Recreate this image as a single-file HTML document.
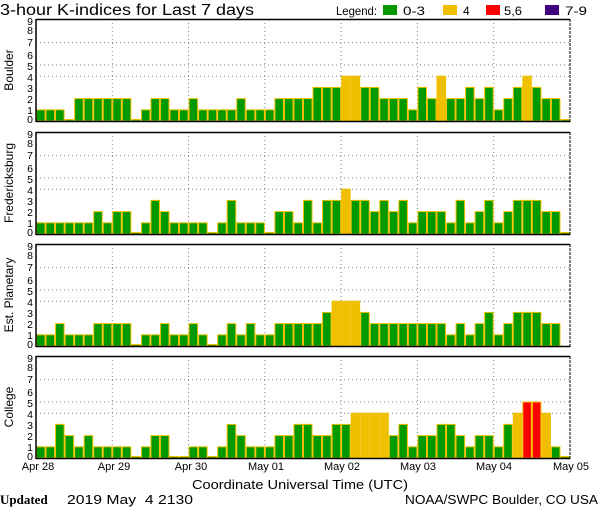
<!DOCTYPE html>
<html><head><meta charset="utf-8"><style>
html,body{margin:0;padding:0;background:#fff;}
svg{display:block;font-family:"Liberation Sans",sans-serif;}
</style></head><body>
<svg id="s" width="600" height="510" viewBox="0 0 600 510" xmlns="http://www.w3.org/2000/svg">
<rect width="600" height="510" fill="#fff"/>
<text x="0" y="15" font-size="15.5" fill="#000" textLength="254" lengthAdjust="spacingAndGlyphs">3-hour K-indices for Last 7 days</text>
<text x="336" y="15" font-size="12" fill="#000" textLength="41" lengthAdjust="spacingAndGlyphs">Legend:</text>
<rect x="383" y="5" width="14" height="10" fill="#009900"/><text x="403" y="15" font-size="12" textLength="22" lengthAdjust="spacingAndGlyphs">0-3</text>
<rect x="443" y="5" width="14" height="10" fill="#f0c000"/><text x="463" y="15" font-size="12">4</text>
<rect x="486" y="5" width="14" height="10" fill="#ff0000"/><text x="504" y="15" font-size="12" textLength="18" lengthAdjust="spacingAndGlyphs">5,6</text>
<rect x="545" y="5" width="14" height="10" fill="#400080"/><text x="565" y="15" font-size="12" textLength="22" lengthAdjust="spacingAndGlyphs">7-9</text>
<g id="panels"></g>
<g font-size="11" text-anchor="middle">
<text x="38" y="470">Apr 28</text><text x="114" y="470">Apr 29</text><text x="191" y="470">Apr 30</text>
<text x="266" y="470">May 01</text><text x="342" y="470">May 02</text><text x="418" y="470">May 03</text>
<text x="494" y="470">May 04</text><text x="571" y="470">May 05</text>
</g>
<text x="192" y="489" font-size="13" textLength="216" lengthAdjust="spacingAndGlyphs">Coordinate Universal Time (UTC)</text>
<text x="0" y="504" font-size="13" font-family="Liberation Serif,serif" font-weight="bold">Updated</text>
<text x="67" y="504" font-size="13" textLength="126" lengthAdjust="spacingAndGlyphs" xml:space="preserve">2019 May  4 2130</text>
<text x="405" y="504" font-size="13" textLength="193" lengthAdjust="spacingAndGlyphs">NOAA/SWPC Boulder, CO USA</text>
<g font-size="12" id="names">
<text transform="translate(13,70) rotate(-90)" text-anchor="middle">Boulder</text>
<text transform="translate(13,183) rotate(-90)" text-anchor="middle">Fredericksburg</text>
<text transform="translate(13,295) rotate(-90)" text-anchor="middle">Est. Planetary</text>
<text transform="translate(13,407) rotate(-90)" text-anchor="middle">College</text>
</g>
</svg>
<script>
var data=[
[1,1,1,0,2,2,2,2, 2,2,0,1,2,2,1,1, 2,1,1,1,1,2,1,1, 1,2,2,2,2,3,3,3, 4,4,3,3,2,2,2,1, 3,2,4,2,2,3,2,3, 1,2,3,4,3,2,2,0],
[1,1,1,1,1,1,2,1, 2,2,0,1,3,2,1,1, 1,1,0,1,3,1,1,1, 0,2,2,1,3,1,3,3, 4,3,3,2,3,2,3,1, 2,2,2,1,3,1,2,3, 1,2,3,3,3,2,2,0],
[1,1,2,1,1,1,2,2, 2,2,0,1,1,2,1,1, 2,1,0,1,2,1,2,1, 1,2,2,2,2,2,3,4, 4,4,3,2,2,2,2,2, 2,2,2,1,2,1,2,3, 1,2,3,3,3,2,2,null],
[1,1,3,2,1,2,1,1, 1,1,0,1,2,2,0,0, 1,1,0,1,3,2,1,1, 1,2,2,3,3,2,2,3, 3,4,4,4,4,2,3,1, 2,2,3,3,2,1,2,2, 1,3,4,5,5,4,1,0]];
var tops=[19,132,244,356];
var L=36,R=570,W=(R-L)/56,U=11.2;
var ns="http://www.w3.org/2000/svg",g=document.getElementById("panels");
function el(n,a,t){var e=document.createElementNS(ns,n);for(var k in a)e.setAttribute(k,a[k]);if(t!=null)e.textContent=t;g.appendChild(e);return e;}
var off=[100,91,80,69,58,47,36,23,11,2];
for(var p=0;p<4;p++){
 var T=tops[p],B=T+102;
 [4,5,7].forEach(function(v){var y=B-v*U;el("line",{x1:L,x2:R,y1:y,y2:y,stroke:"#808080","stroke-dasharray":"1,3","stroke-width":1});});
 for(var d=1;d<7;d++){var x=L+d*8*W;el("line",{x1:x,x2:x,y1:T,y2:B,stroke:"#808080","stroke-dasharray":"1,3","stroke-width":1});}
 for(var v=0;v<10;v++)el("text",{x:33,y:T+off[v]+4,"font-size":10.5,"text-anchor":"end"},String(v));
 for(var i=0;i<56;i++){var v=data[p][i];if(v==null)continue;
  var x=L+i*W,h=v==0?1.5:v*U,y=B-h;
  var f=v<=3?"#009900":v==4?"#f0c000":v<=6?"#ff0000":"#400080";
  el("rect",{x:x+0.5,y:y,width:W-1,height:h,fill:f,stroke:"#f0c000","stroke-width":1});
 }
 el("line",{x1:L,x2:R,y1:T+0.5,y2:T+0.5,stroke:"#000","stroke-width":1.5});
 el("line",{x1:L,x2:R,y1:B+0.5,y2:B+0.5,stroke:"#000","stroke-width":1.5});
 el("line",{x1:L,x2:L,y1:T,y2:B+1,stroke:"#000","stroke-width":1.5});
 el("line",{x1:R,x2:R,y1:T,y2:B+1,stroke:"#000","stroke-width":1,"stroke-dasharray":"3,1"});
}
</script>
</body></html>
